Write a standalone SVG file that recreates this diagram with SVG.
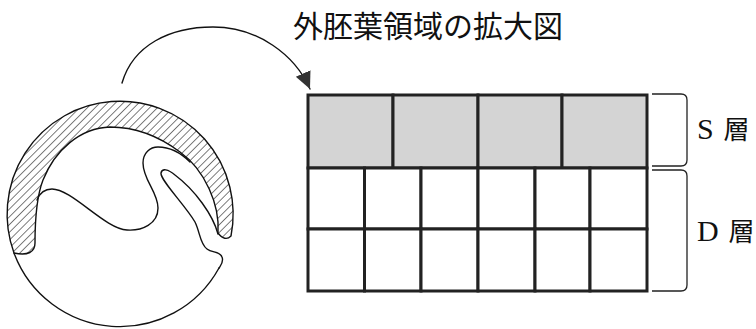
<svg xmlns="http://www.w3.org/2000/svg" width="756" height="329" viewBox="0 0 756 329">
<style>
.ln{fill:none;stroke:#111;stroke-width:1.4;stroke-linejoin:round;stroke-linecap:round}
.cellS{fill:#d4d4d4;stroke:#222;stroke-width:3}
.cellD{fill:#fff;stroke:#222;stroke-width:3}
.br{fill:none;stroke:#222;stroke-width:1.3}
.jp{font-family:"Noto Sans CJK JP","Noto Sans CJK SC",sans-serif;fill:#111}
.lat{font-family:"Liberation Serif",serif;fill:#111}
</style>
<defs>
<pattern id="hatch" patternUnits="userSpaceOnUse" width="5.5" height="5.5" patternTransform="rotate(45)">
<line x1="0" y1="0" x2="0" y2="5.5" stroke="#111" stroke-width="1.1"/>
</pattern>
<marker id="ah" markerUnits="userSpaceOnUse" markerWidth="18" markerHeight="17" refX="17" refY="8" orient="auto">
<path d="M0,0 L17,8 L0,16 Z" fill="#333"/>
</marker>
</defs>
<rect width="756" height="329" fill="#fff"/>

<g id="embryo">
<path class="ln" d="M219,268 A113,113 0 0 1 14,253"/>
<path d="M14,253 A113,113 0 1 1 231,236 Q225,242 218,233 C220,205 205,170 180,152 C160,137 135,127 110,127 C80,128 55,150 43,180 C36,198 35,225 35,243 C35,252 28,256 14,253 Z" fill="url(#hatch)" stroke="#111" stroke-width="1.4"/>
<path class="ln" d="M37,200 C40,192 45,189 52,189 C72,189 105,229 127,230 C142,231 158,224 158,208 C158,192 143,180 143,163 C143,153 150,147 158,147 C168,147 180,152 190,162"/>
<path class="ln" d="M218,234 C213,215 195,190 175,175 C168,169 162,168 161,173 C160,180 185,205 195,222 C200,232 200,244 207,249 C212,253 220,251 222,257 C224,262 221,265 219,268"/>
</g>

<g id="title"><text class="jp" x="293" y="37" font-size="30">外胚葉領域の拡大図</text></g>

<g id="s-layer">
<rect class="cellS" x="308" y="95" width="85" height="73"/>
<rect class="cellS" x="393" y="95" width="85" height="73"/>
<rect class="cellS" x="478" y="95" width="84" height="73"/>
<rect class="cellS" x="562" y="95" width="85" height="73"/>
</g>
<g id="d-layer">
<rect class="cellD" x="308" y="168" width="56.5" height="61"/>
<rect class="cellD" x="364.5" y="168" width="56.5" height="61"/>
<rect class="cellD" x="421" y="168" width="57" height="61"/>
<rect class="cellD" x="478" y="168" width="57" height="61"/>
<rect class="cellD" x="535" y="168" width="55" height="61"/>
<rect class="cellD" x="590" y="168" width="57" height="61"/>
<rect class="cellD" x="308" y="229" width="56.5" height="62"/>
<rect class="cellD" x="364.5" y="229" width="56.5" height="62"/>
<rect class="cellD" x="421" y="229" width="57" height="62"/>
<rect class="cellD" x="478" y="229" width="57" height="62"/>
<rect class="cellD" x="535" y="229" width="55" height="62"/>
<rect class="cellD" x="590" y="229" width="57" height="62"/>
</g>

<g id="s-label">
<path class="br" d="M652,94 H681 Q687,94 687,100 V160 Q687,166 681,166 H652"/>
<text x="697" y="139"><tspan class="lat" font-size="30">S</tspan><tspan class="jp" font-size="26" dx="4"> 層</tspan></text>
</g>
<g id="d-label">
<path class="br" d="M652,170 H681 Q687,170 687,176 V285 Q687,291 681,291 H652"/>
<text x="697" y="241"><tspan class="lat" font-size="30">D</tspan><tspan class="jp" font-size="26" dx="4"> 層</tspan></text>
</g>

<g id="connectors">
<path class="ln" d="M122,83 C133,45 170,27 213,27 C258,27 295,55 310,89" marker-end="url(#ah)"/>
</g>
</svg>
